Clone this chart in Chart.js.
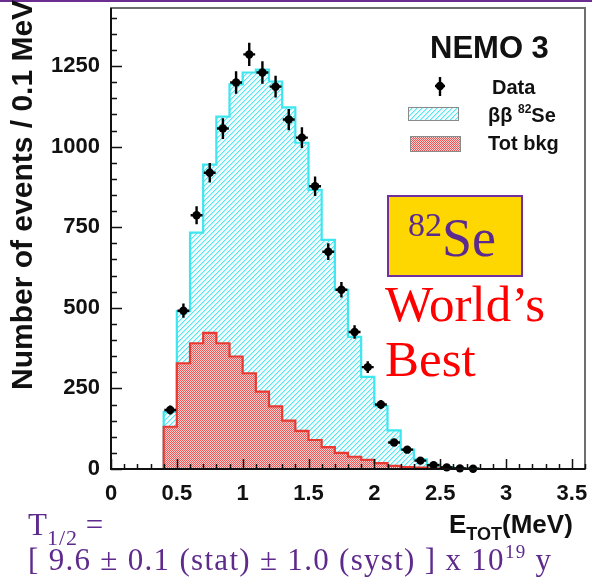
<!DOCTYPE html>
<html>
<head>
<meta charset="utf-8">
<title>NEMO 3 — 82Se two-neutrino double beta spectrum</title>
<script src="https://cdn.jsdelivr.net/npm/chart.js@4.4.1/dist/chart.umd.min.js"></script>
<style>
  html, body { margin: 0; padding: 0; background: #fff; }
  #wrap { position: relative; width: 592px; height: 580px; overflow: hidden; }
  #wrap canvas { position: absolute; left: 0; top: 0; }
  .t { position: absolute; white-space: nowrap; line-height: 1; margin: 0; }
  .sans { font-family: "Liberation Sans", Arial, sans-serif; font-weight: bold; color: #111; }
  .serif { font-family: "Liberation Serif", "Times New Roman", serif; }
  .up, .dn { line-height: 0; }
  #topRule { position: absolute; left: 0; top: 0; width: 592px; height: 2px; background: #6c2d91; }
  #seBox { position: absolute; left: 387px; top: 195px; width: 136px; height: 82px; box-sizing: border-box;
           border: 2px solid #7030a0; background: #ffd700; }
</style>
</head>
<body>
<div id="wrap">
  <canvas id="spectrum" width="592" height="580"></canvas>
  <div id="topRule"></div>

  <!-- axis titles -->
  <div class="t sans" id="yTitle" style="left:7px; top:390px; font-size:30px; transform-origin:0 0; transform:rotate(-90deg);">Number of events / 0.1 MeV</div>
  <div class="t sans" style="left:449px; top:511px; font-size:26px;">E<span class="dn" style="font-size:18px; vertical-align:-7px;">TOT</span>(MeV)</div>

  <!-- legend text -->
  <div class="t sans" style="left:430px; top:31.6px; font-size:31px;">NEMO 3</div>
  <div class="t sans" style="left:492px; top:77px; font-size:20px;">Data</div>
  <div class="t sans" style="left:488px; top:105px; font-size:20px;">ββ <span class="up" style="font-size:12px; vertical-align:9px;">82</span>Se</div>
  <div class="t sans" style="left:488px; top:133px; font-size:20px;">Tot bkg</div>

  <!-- isotope tag and caption -->
  <div id="seBox"></div>
  <div class="t serif" style="left:408px; top:210.8px; font-size:54px; color:#5b2a90;"><span class="up" style="font-size:34px; vertical-align:20px;">82</span>Se</div>
  <div class="t serif" style="left:385px; top:279.3px; font-size:51px; color:#ff0000;">World’s</div>
  <div class="t serif" style="left:385px; top:334.3px; font-size:51px; color:#ff0000;">Best</div>

  <!-- half-life result -->
  <div class="t serif" style="left:28px; top:509px; font-size:31px; color:#5e2a8c;">T<span class="dn" style="font-size:22px; vertical-align:-10px; letter-spacing:1px;">1/2</span> =</div>
  <div class="t serif" style="left:28px; top:544px; font-size:31px; color:#5e2a8c; letter-spacing:1.3px;">[ 9.6 ± 0.1 (stat) ± 1.0 (syst) ] x 10<span class="up" style="font-size:19px; vertical-align:12px;">19</span> y</div>
</div>

<script>
// Energy bins (lower edges, MeV), 0.1 MeV wide
const binLow = [0.4, 0.5, 0.6, 0.7, 0.8, 0.9, 1.0, 1.1, 1.2, 1.3, 1.4, 1.5,
                1.6, 1.7, 1.8, 1.9, 2.0, 2.1, 2.2, 2.3, 2.4, 2.5, 2.6, 2.7];
// Expected counts: 2nu-bb signal stacked on total background
const totalMC = [177, 490, 733, 944, 1093, 1193, 1230, 1239, 1202, 1122, 1012, 866,
                 711, 556, 410, 286, 195, 120, 60, 30, 14, 6, 3, 1];
// Total background alone
const bkgMC = [131, 328, 390, 422, 390, 349, 297, 240, 194, 150, 118, 90,
               68, 50, 38, 28, 18, 10, 6, 4, 2, 1, 1, 0];
// Measured events per bin and their uncertainties
const dataCounts = [183, 491, 787, 919, 1056, 1199, 1286, 1230, 1186, 1084, 1028, 877,
                    674, 556, 425, 316, 200, 82, 60, 26, 12, 5, 2, 1];
const dataErr = [14, 22, 28, 30, 32, 35, 36, 35, 34, 33, 32, 30,
                 26, 24, 21, 18, 14, 9, 8, 5, 4, 2, 1, 1];
// Axis ticks
const xTickValues = [0, 0.5, 1, 1.5, 2, 2.5, 3, 3.5];
const yTickValues = [0, 250, 500, 750, 1000, 1250];

const BIN_WIDTH = 0.1;
const X_MAX = 3.6, Y_MAX = 1430;
const X_MINOR = 0.1, Y_MINOR = 50;

// Histogram outline as step points: rise at the first edge, drop after the last bin
function stepPoints(values) {
  const pts = [{ x: binLow[0], y: 0 }];
  values.forEach((v, i) => pts.push({ x: binLow[i], y: v }));
  pts.push({ x: binLow[binLow.length - 1] + BIN_WIDTH, y: 0 });
  return pts;
}

// Fill patterns: cyan diagonal hatch for the signal, red dotted mesh for the background
function hatchPattern() {
  const n = 5, c = document.createElement('canvas');
  c.width = c.height = n;
  const g = c.getContext('2d');
  g.fillStyle = '#f0fcfd'; g.fillRect(0, 0, n, n);
  for (let x = 0; x < n; x++) for (let y = 0; y < n; y++) {
    const d = (x + y) % n;
    if (d === n - 1) { g.fillStyle = '#5ae4ef'; g.fillRect(x, y, 1, 1); }
    else if (d === 0) { g.fillStyle = '#b2f2f8'; g.fillRect(x, y, 1, 1); }
  }
  return g.createPattern(c, 'repeat');
}
function meshPattern() {
  const c = document.createElement('canvas');
  c.width = c.height = 2;
  const g = c.getContext('2d');
  g.fillStyle = '#fad0d0'; g.fillRect(0, 0, 2, 2);
  g.fillStyle = '#e95757'; g.fillRect(0, 0, 1, 1); g.fillRect(1, 1, 1, 1);
  return g.createPattern(c, 'repeat');
}
const cyanFill = hatchPattern();
const redFill = meshPattern();
const CYAN_LINE = '#3fe6ef';
const RED_LINE = '#e83a32';

function drawMarker(ctx, cx, cy, yTop, yBot, half) {
  ctx.beginPath();
  ctx.moveTo(cx, yTop); ctx.lineTo(cx, yBot);
  ctx.moveTo(cx - half, cy); ctx.lineTo(cx + half, cy);
  ctx.stroke();
  ctx.beginPath();
  ctx.arc(cx, cy, 4.2, 0, Math.PI * 2);
  ctx.fill();
}

// Data points with vertical error bars and bin-width ticks
const errorBars = {
  id: 'errorBars',
  afterDatasetsDraw(chart) {
    const { ctx, scales: { x, y } } = chart;
    ctx.save();
    ctx.strokeStyle = '#000'; ctx.fillStyle = '#000'; ctx.lineWidth = 2.4;
    dataCounts.forEach((v, i) => {
      const xc = binLow[i] + BIN_WIDTH / 2;
      const cx = x.getPixelForValue(xc);
      const cy = y.getPixelForValue(v);
      const yt = y.getPixelForValue(v + dataErr[i]);
      const yb = y.getPixelForValue(Math.max(0, v - dataErr[i]));
      const half = x.getPixelForValue(xc + 0.045) - cx;
      drawMarker(ctx, cx, cy, yt, yb, half);
    });
    ctx.restore();
  }
};

// Frame, inward tick marks and legend symbols
const frameAndLegend = {
  id: 'frameAndLegend',
  afterDraw(chart) {
    const { ctx, chartArea: a, scales: { x, y } } = chart;
    ctx.save();
    ctx.lineWidth = 2;
    ctx.strokeStyle = '#6e6e6e';
    ctx.strokeRect(a.left, a.top, a.right - a.left, a.bottom - a.top);
    ctx.strokeStyle = '#111';
    ctx.beginPath();
    ctx.moveTo(a.left, a.top); ctx.lineTo(a.left, a.bottom); ctx.lineTo(a.right, a.bottom);
    ctx.stroke();

    ctx.lineWidth = 1.5;
    ctx.beginPath();
    for (let k = 0; k * Y_MINOR <= Y_MAX; k++) {
      const v = k * Y_MINOR, py = Math.round(y.getPixelForValue(v)) + 0.5;
      const len = (k % 5 === 0) ? 11 : 6;
      ctx.moveTo(a.left, py); ctx.lineTo(a.left + len, py);
    }
    for (let k = 0; k * X_MINOR <= X_MAX + 1e-9; k++) {
      const v = k * X_MINOR, px = Math.round(x.getPixelForValue(v)) + 0.5;
      const len = (k % 5 === 0) ? 10 : 5;
      ctx.moveTo(px, a.bottom); ctx.lineTo(px, a.bottom - len);
    }
    ctx.stroke();

    // legend: data marker, signal box, background box
    ctx.strokeStyle = '#000'; ctx.fillStyle = '#000'; ctx.lineWidth = 2.4;
    drawMarker(ctx, 440, 86, 77, 96, 5);
    ctx.fillStyle = cyanFill; ctx.fillRect(408, 107, 50, 13);
    ctx.fillStyle = redFill; ctx.fillRect(410, 136, 50, 15);
    ctx.lineWidth = 1; ctx.strokeStyle = '#8a8a8a';
    ctx.strokeRect(408.5, 107.5, 50, 13);
    ctx.strokeRect(410.5, 136.5, 50, 15);
    ctx.restore();
  }
};

const tickFont = { family: 'Liberation Sans', weight: 'bold', size: 22 };

// Scales keep a fixed footprint so the plot frame sits where the layout padding puts it
function fixedBox(size, prop) {
  return function (s) {
    s[prop] = size;
    s.paddingTop = 0; s.paddingBottom = 0; s.paddingLeft = 0; s.paddingRight = 0;
  };
}

new Chart(document.getElementById('spectrum'), {
  type: 'line',
  data: {
    datasets: [
      {
        label: 'ββ 82Se',
        data: stepPoints(totalMC),
        stepped: 'before',
        fill: 'origin',
        backgroundColor: cyanFill,
        borderColor: CYAN_LINE,
        borderWidth: 2.2,
        pointRadius: 0,
        order: 3
      },
      {
        label: 'Tot bkg',
        data: stepPoints(bkgMC),
        stepped: 'before',
        fill: 'origin',
        backgroundColor: redFill,
        borderColor: RED_LINE,
        borderWidth: 2.2,
        pointRadius: 0,
        order: 2
      }
    ]
  },
  options: {
    responsive: false,
    animation: false,
    devicePixelRatio: 1,
    events: [],
    layout: { padding: { left: 0, right: 7, top: 8, bottom: 0 } },
    plugins: { legend: { display: false }, tooltip: { enabled: false } },
    scales: {
      x: {
        type: 'linear', min: 0, max: X_MAX,
        afterFit: fixedBox(111, 'height'),
        afterBuildTicks(s) { s.ticks = xTickValues.map(v => ({ value: v })); },
        grid: { display: false, drawTicks: false },
        border: { display: false },
        ticks: { autoSkip: false, maxRotation: 0, padding: 12, color: '#111', font: tickFont,
                 callback: v => String(v) }
      },
      y: {
        type: 'linear', min: 0, max: Y_MAX,
        afterFit: fixedBox(111, 'width'),
        afterBuildTicks(s) { s.ticks = yTickValues.map(v => ({ value: v })); },
        grid: { display: false, drawTicks: false },
        border: { display: false },
        ticks: { padding: 11, color: '#111', font: tickFont, callback: v => String(v) }
      }
    }
  },
  plugins: [errorBars, frameAndLegend]
});
</script>
</body>
</html>
